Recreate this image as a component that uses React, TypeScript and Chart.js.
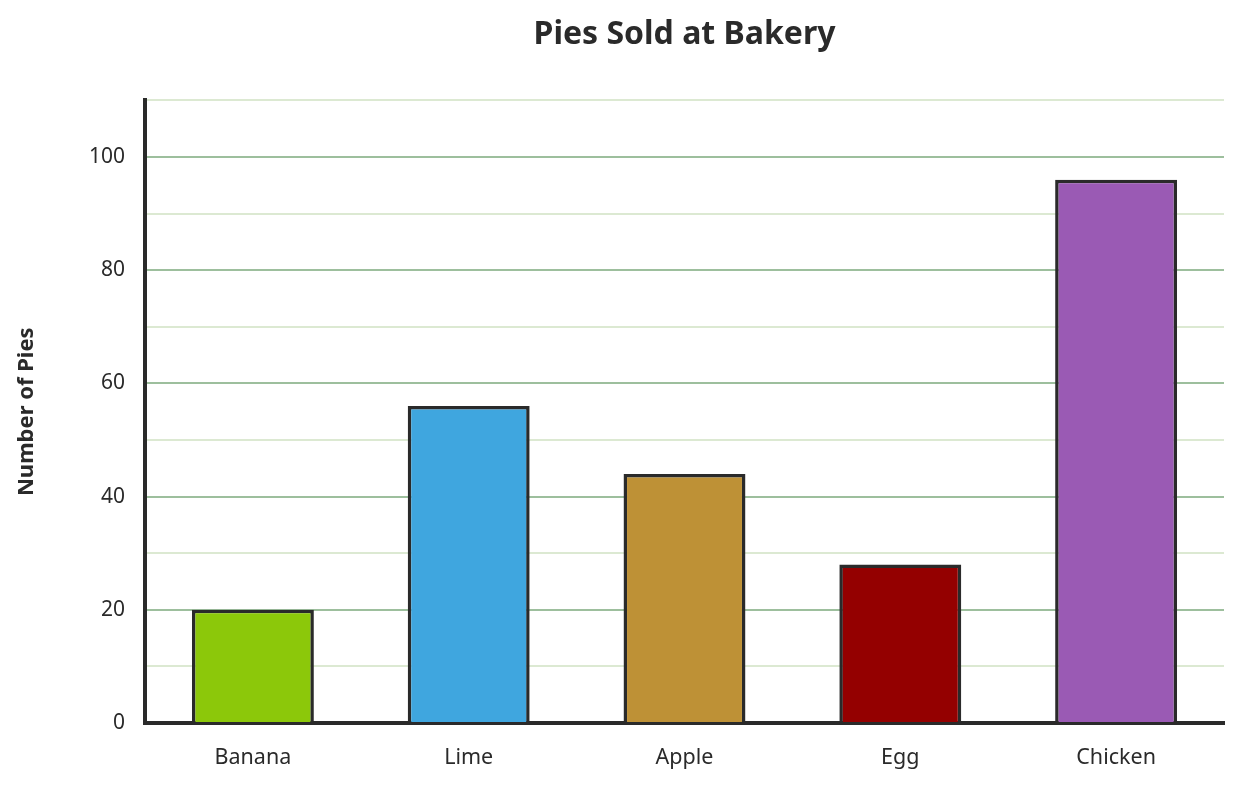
import React, { useEffect, useRef } from "react";
import { Chart, registerables } from "chart.js";

Chart.register(...registerables);

const categories = ["Banana", "Lime", "Apple", "Egg", "Chicken"];
const pies = [20, 56, 44, 28, 96];
const barColors = ["#8cc80a", "#3fa6df", "#be9136", "#940000", "#9a5ab4"];
const chartTitle = "Pies Sold at Bakery";
const yTitle = "Number of Pies";

const FONT = "'Noto Sans', 'Open Sans', sans-serif";
const INK = "#2a2a2a";

export default function App() {
  const ref = useRef<HTMLCanvasElement | null>(null);
  useEffect(() => {
    if (!ref.current) return;
    const chart = new Chart(ref.current, {
      type: "bar",
      data: {
        labels: categories,
        datasets: [
          {
            data: pies,
            backgroundColor: barColors,
            borderColor: INK,
            borderWidth: 3.5,
            barPercentage: 0.565,
            categoryPercentage: 1,
          },
        ],
      },
      options: {
        animation: false,
        responsive: true,
        maintainAspectRatio: false,
        layout: { padding: { left: 0, right: 18, top: 0, bottom: 0 } },
        plugins: {
          legend: { display: false },
          tooltip: { enabled: false },
          title: {
            display: true,
            text: chartTitle,
            fullSize: false,
            color: INK,
            font: { family: FONT, size: 32, weight: "bold" },
            padding: { top: 16, bottom: 46 },
          },
        },
        scales: {
          x: {
            afterFit: (s: any) => {
              s.height = 65;
            },
            grid: { display: false, drawTicks: false },
            border: { display: true, color: INK, width: 4 },
            ticks: {
              color: INK,
              padding: 22,
              font: { family: FONT, size: 21.5 },
            },
          },
          y: {
            min: 0,
            max: 110,
            afterFit: (s: any) => {
              s.width = 145;
            },
            border: { display: true, color: INK, width: 4 },
            grid: {
              drawTicks: false,
              lineWidth: 2,
              color: (ctx: any) =>
                ctx.tick && ctx.tick.value % 20 === 0 ? "#9dbf9d" : "#dce9d2",
            },
            ticks: {
              stepSize: 10,
              padding: 20,
              color: INK,
              font: { family: FONT, size: 21 },
              callback: (v: any) => (Number(v) % 20 === 0 ? String(v) : ""),
            },
            title: {
              display: true,
              text: yTitle,
              color: INK,
              font: { family: FONT, size: 22, weight: "bold" },
              padding: { top: 14, bottom: 0 },
            },
          },
        },
      },
    });
    return () => chart.destroy();
  }, []);
  return (
    <div style={{ position: "fixed", left: 0, top: 0, width: 1242, height: 788, background: "#fff" }}>
      <canvas ref={ref} />
    </div>
  );
}
